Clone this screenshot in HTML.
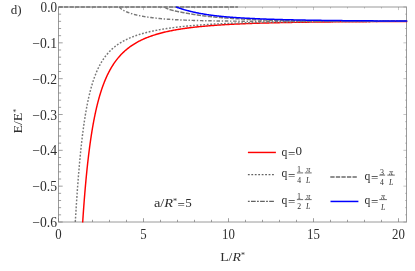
<!DOCTYPE html>
<html><head><meta charset="utf-8"><title>plot</title>
<style>
html,body{margin:0;padding:0;background:#ffffff;}
body{width:415px;height:271px;position:relative;overflow:hidden;font-family:"Liberation Serif",serif;}
</style></head><body>
<svg width="415" height="271" viewBox="0 0 415 271" style="position:absolute;left:0;top:0;will-change:transform">
<defs><clipPath id="c"><rect x="58.50" y="5.80" width="348.90" height="216.70"/></clipPath></defs>
<rect x="58.5" y="7.0" width="348.0" height="215.0" stroke="#9a9a9a" stroke-width="1" fill="none"/>
<g stroke="#777777" stroke-width="0.7" fill="none">
<path d="M58.50 222.0 v-3.8"/><path d="M58.50 7.0 v3.0999999999999996" stroke-opacity="0.6"/>
<path d="M75.50 222.0 v-2.2"/><path d="M75.50 7.0 v1.5000000000000002" stroke-opacity="0.6"/>
<path d="M92.50 222.0 v-2.2"/><path d="M92.50 7.0 v1.5000000000000002" stroke-opacity="0.6"/>
<path d="M109.50 222.0 v-2.2"/><path d="M109.50 7.0 v1.5000000000000002" stroke-opacity="0.6"/>
<path d="M126.50 222.0 v-2.2"/><path d="M126.50 7.0 v1.5000000000000002" stroke-opacity="0.6"/>
<path d="M143.50 222.0 v-3.8"/><path d="M143.50 7.0 v3.0999999999999996" stroke-opacity="0.6"/>
<path d="M160.50 222.0 v-2.2"/><path d="M160.50 7.0 v1.5000000000000002" stroke-opacity="0.6"/>
<path d="M177.50 222.0 v-2.2"/><path d="M177.50 7.0 v1.5000000000000002" stroke-opacity="0.6"/>
<path d="M194.50 222.0 v-2.2"/><path d="M194.50 7.0 v1.5000000000000002" stroke-opacity="0.6"/>
<path d="M211.50 222.0 v-2.2"/><path d="M211.50 7.0 v1.5000000000000002" stroke-opacity="0.6"/>
<path d="M228.50 222.0 v-3.8"/><path d="M228.50 7.0 v3.0999999999999996" stroke-opacity="0.6"/>
<path d="M245.50 222.0 v-2.2"/><path d="M245.50 7.0 v1.5000000000000002" stroke-opacity="0.6"/>
<path d="M262.50 222.0 v-2.2"/><path d="M262.50 7.0 v1.5000000000000002" stroke-opacity="0.6"/>
<path d="M279.50 222.0 v-2.2"/><path d="M279.50 7.0 v1.5000000000000002" stroke-opacity="0.6"/>
<path d="M296.50 222.0 v-2.2"/><path d="M296.50 7.0 v1.5000000000000002" stroke-opacity="0.6"/>
<path d="M313.50 222.0 v-3.8"/><path d="M313.50 7.0 v3.0999999999999996" stroke-opacity="0.6"/>
<path d="M330.50 222.0 v-2.2"/><path d="M330.50 7.0 v1.5000000000000002" stroke-opacity="0.6"/>
<path d="M347.50 222.0 v-2.2"/><path d="M347.50 7.0 v1.5000000000000002" stroke-opacity="0.6"/>
<path d="M364.50 222.0 v-2.2"/><path d="M364.50 7.0 v1.5000000000000002" stroke-opacity="0.6"/>
<path d="M381.50 222.0 v-2.2"/><path d="M381.50 7.0 v1.5000000000000002" stroke-opacity="0.6"/>
<path d="M398.50 222.0 v-3.8"/><path d="M398.50 7.0 v3.0999999999999996" stroke-opacity="0.6"/>
<path d="M58.5 7.00 h4.2"/><path d="M406.5 7.00 h-3.0999999999999996" stroke-opacity="0.6"/>
<path d="M58.5 14.17 h2.6"/><path d="M406.5 14.17 h-1.5000000000000002" stroke-opacity="0.6"/>
<path d="M58.5 21.33 h2.6"/><path d="M406.5 21.33 h-1.5000000000000002" stroke-opacity="0.6"/>
<path d="M58.5 28.50 h2.6"/><path d="M406.5 28.50 h-1.5000000000000002" stroke-opacity="0.6"/>
<path d="M58.5 35.67 h2.6"/><path d="M406.5 35.67 h-1.5000000000000002" stroke-opacity="0.6"/>
<path d="M58.5 42.83 h4.2"/><path d="M406.5 42.83 h-3.0999999999999996" stroke-opacity="0.6"/>
<path d="M58.5 50.00 h2.6"/><path d="M406.5 50.00 h-1.5000000000000002" stroke-opacity="0.6"/>
<path d="M58.5 57.17 h2.6"/><path d="M406.5 57.17 h-1.5000000000000002" stroke-opacity="0.6"/>
<path d="M58.5 64.33 h2.6"/><path d="M406.5 64.33 h-1.5000000000000002" stroke-opacity="0.6"/>
<path d="M58.5 71.50 h2.6"/><path d="M406.5 71.50 h-1.5000000000000002" stroke-opacity="0.6"/>
<path d="M58.5 78.67 h4.2"/><path d="M406.5 78.67 h-3.0999999999999996" stroke-opacity="0.6"/>
<path d="M58.5 85.83 h2.6"/><path d="M406.5 85.83 h-1.5000000000000002" stroke-opacity="0.6"/>
<path d="M58.5 93.00 h2.6"/><path d="M406.5 93.00 h-1.5000000000000002" stroke-opacity="0.6"/>
<path d="M58.5 100.17 h2.6"/><path d="M406.5 100.17 h-1.5000000000000002" stroke-opacity="0.6"/>
<path d="M58.5 107.33 h2.6"/><path d="M406.5 107.33 h-1.5000000000000002" stroke-opacity="0.6"/>
<path d="M58.5 114.50 h4.2"/><path d="M406.5 114.50 h-3.0999999999999996" stroke-opacity="0.6"/>
<path d="M58.5 121.67 h2.6"/><path d="M406.5 121.67 h-1.5000000000000002" stroke-opacity="0.6"/>
<path d="M58.5 128.83 h2.6"/><path d="M406.5 128.83 h-1.5000000000000002" stroke-opacity="0.6"/>
<path d="M58.5 136.00 h2.6"/><path d="M406.5 136.00 h-1.5000000000000002" stroke-opacity="0.6"/>
<path d="M58.5 143.17 h2.6"/><path d="M406.5 143.17 h-1.5000000000000002" stroke-opacity="0.6"/>
<path d="M58.5 150.33 h4.2"/><path d="M406.5 150.33 h-3.0999999999999996" stroke-opacity="0.6"/>
<path d="M58.5 157.50 h2.6"/><path d="M406.5 157.50 h-1.5000000000000002" stroke-opacity="0.6"/>
<path d="M58.5 164.67 h2.6"/><path d="M406.5 164.67 h-1.5000000000000002" stroke-opacity="0.6"/>
<path d="M58.5 171.83 h2.6"/><path d="M406.5 171.83 h-1.5000000000000002" stroke-opacity="0.6"/>
<path d="M58.5 179.00 h2.6"/><path d="M406.5 179.00 h-1.5000000000000002" stroke-opacity="0.6"/>
<path d="M58.5 186.17 h4.2"/><path d="M406.5 186.17 h-3.0999999999999996" stroke-opacity="0.6"/>
<path d="M58.5 193.33 h2.6"/><path d="M406.5 193.33 h-1.5000000000000002" stroke-opacity="0.6"/>
<path d="M58.5 200.50 h2.6"/><path d="M406.5 200.50 h-1.5000000000000002" stroke-opacity="0.6"/>
<path d="M58.5 207.67 h2.6"/><path d="M406.5 207.67 h-1.5000000000000002" stroke-opacity="0.6"/>
<path d="M58.5 214.83 h2.6"/><path d="M406.5 214.83 h-1.5000000000000002" stroke-opacity="0.6"/>
<path d="M58.5 222.00 h4.2"/><path d="M406.5 222.00 h-3.0999999999999996" stroke-opacity="0.6"/>
</g>
<g clip-path="url(#c)" fill="none" stroke-linejoin="round">
<path d="M82.30 228.28 L82.36 227.33 L82.42 226.38 L82.48 225.43 L82.54 224.49 L82.60 223.54 L82.66 222.59 L82.72 221.64 L82.79 220.70 L82.85 219.75 L82.91 218.80 L82.98 217.85 L83.04 216.91 L83.10 215.96 L83.17 215.01 L83.24 214.06 L83.30 213.12 L83.37 212.17 L83.43 211.22 L83.50 210.27 L83.57 209.33 L83.64 208.38 L83.71 207.43 L83.78 206.49 L83.85 205.54 L83.92 204.59 L83.99 203.64 L84.06 202.70 L84.13 201.75 L84.21 200.80 L84.28 199.86 L84.35 198.91 L84.43 197.96 L84.50 197.02 L84.58 196.07 L84.66 195.12 L84.73 194.18 L84.81 193.23 L84.89 192.28 L84.97 191.34 L85.05 190.39 L85.13 189.45 L85.21 188.50 L85.29 187.55 L85.38 186.61 L85.46 185.66 L85.54 184.72 L85.63 183.77 L85.71 182.82 L85.80 181.88 L85.89 180.93 L85.97 179.99 L86.06 179.04 L86.15 178.10 L86.24 177.15 L86.33 176.20 L86.42 175.26 L86.52 174.31 L86.61 173.37 L86.71 172.42 L86.80 171.48 L86.90 170.53 L86.99 169.59 L87.09 168.65 L87.19 167.70 L87.29 166.76 L87.39 165.81 L87.49 164.87 L87.60 163.92 L87.70 162.98 L87.81 162.04 L87.91 161.09 L88.02 160.15 L88.13 159.21 L88.24 158.26 L88.35 157.32 L88.46 156.38 L88.57 155.43 L88.69 154.49 L88.80 153.55 L88.92 152.60 L89.04 151.66 L89.16 150.72 L89.28 149.78 L89.40 148.84 L89.52 147.89 L89.65 146.95 L89.77 146.01 L89.90 145.07 L90.03 144.13 L90.16 143.19 L90.29 142.25 L90.42 141.31 L90.56 140.37 L90.69 139.43 L90.83 138.49 L90.97 137.55 L91.11 136.61 L91.26 135.67 L91.40 134.73 L91.55 133.80 L91.70 132.86 L91.85 131.92 L92.00 130.98 L92.15 130.04 L92.31 129.11 L92.47 128.17 L92.63 127.24 L92.79 126.30 L92.95 125.36 L93.12 124.43 L93.29 123.50 L93.46 122.56 L93.63 121.63 L93.81 120.69 L93.99 119.76 L94.17 118.83 L94.35 117.90 L94.54 116.97 L94.73 116.04 L94.92 115.10 L95.11 114.18 L95.31 113.25 L95.51 112.32 L95.71 111.39 L95.92 110.46 L96.13 109.54 L96.34 108.61 L96.55 107.69 L96.77 106.76 L96.99 105.84 L97.22 104.92 L97.45 103.99 L97.68 103.07 L97.92 102.15 L98.16 101.23 L98.40 100.32 L98.65 99.40 L98.90 98.48 L99.16 97.57 L99.42 96.66 L99.68 95.74 L99.95 94.83 L100.23 93.93 L100.51 93.02 L100.79 92.11 L101.08 91.21 L101.38 90.30 L101.67 89.40 L101.98 88.50 L102.29 87.60 L102.60 86.71 L102.92 85.81 L103.25 84.92 L103.58 84.03 L103.92 83.15 L104.27 82.26 L104.62 81.38 L104.98 80.50 L105.35 79.62 L105.72 78.75 L106.10 77.88 L106.48 77.01 L106.88 76.15 L107.28 75.29 L107.69 74.43 L108.11 73.58 L108.54 72.73 L108.97 71.89 L109.41 71.05 L109.86 70.21 L110.32 69.38 L110.79 68.55 L111.27 67.73 L111.76 66.92 L112.25 66.11 L112.76 65.30 L113.27 64.51 L113.80 63.71 L114.33 62.93 L114.88 62.15 L115.43 61.38 L116.00 60.62 L116.57 59.86 L117.16 59.11 L117.75 58.37 L118.36 57.64 L118.98 56.92 L119.60 56.20 L120.24 55.50 L120.88 54.80 L121.54 54.12 L122.21 53.44 L122.88 52.77 L123.57 52.11 L124.26 51.47 L124.97 50.83 L125.68 50.21 L126.41 49.59 L127.14 48.99 L127.88 48.39 L128.63 47.81 L129.39 47.24 L130.15 46.68 L130.93 46.13 L131.71 45.59 L132.50 45.06 L133.30 44.54 L134.10 44.04 L134.91 43.54 L135.73 43.06 L136.55 42.58 L137.38 42.12 L138.21 41.67 L139.05 41.22 L139.90 40.79 L140.75 40.37 L141.60 39.95 L142.46 39.55 L143.33 39.16 L144.20 38.77 L145.07 38.40 L145.95 38.03 L146.82 37.67 L147.71 37.32 L148.59 36.98 L149.48 36.65 L150.38 36.33 L151.27 36.01 L152.17 35.70 L153.07 35.40 L153.97 35.10 L154.88 34.82 L155.79 34.54 L156.70 34.26 L157.61 34.00 L158.52 33.73 L159.44 33.48 L160.35 33.23 L161.27 32.99 L162.19 32.75 L163.11 32.52 L164.03 32.30 L164.96 32.08 L165.88 31.86 L166.81 31.65 L167.74 31.45 L168.66 31.25 L169.59 31.05 L170.52 30.86 L171.45 30.67 L172.39 30.49 L173.32 30.31 L174.25 30.14 L175.19 29.97 L176.12 29.80 L177.06 29.64 L177.99 29.48 L178.93 29.33 L179.87 29.17 L180.81 29.03 L181.75 28.88 L182.68 28.74 L183.62 28.60 L184.56 28.46 L185.50 28.33 L186.44 28.20 L187.39 28.07 L188.33 27.95 L189.27 27.83 L190.21 27.71 L191.15 27.59 L192.10 27.48 L193.04 27.37 L193.98 27.26 L194.93 27.15 L195.87 27.04 L196.81 26.94 L197.76 26.84 L198.70 26.74 L199.65 26.65 L200.59 26.55 L201.54 26.46 L202.48 26.37 L203.43 26.28 L204.37 26.19 L205.32 26.11 L206.27 26.02 L207.21 25.94 L208.16 25.86 L209.11 25.78 L210.05 25.71 L211.00 25.63 L211.95 25.56 L212.89 25.48 L213.84 25.41 L214.79 25.34 L215.73 25.27 L216.68 25.21 L217.63 25.14 L218.58 25.07 L219.52 25.01 L220.47 24.95 L221.42 24.89 L222.37 24.83 L223.31 24.77 L224.26 24.71 L225.21 24.65 L226.16 24.60 L227.11 24.54 L228.05 24.49 L229.00 24.44 L229.95 24.39 L230.90 24.34 L231.85 24.29 L232.80 24.24 L233.74 24.19 L234.69 24.14 L235.64 24.10 L236.59 24.05 L237.54 24.01 L238.49 23.96 L239.44 23.92 L240.38 23.88 L241.33 23.84 L242.28 23.80 L243.23 23.76 L244.18 23.72 L245.13 23.68 L246.08 23.64 L247.03 23.60 L247.98 23.57 L248.92 23.53 L249.87 23.50 L250.82 23.46 L251.77 23.43 L252.72 23.39 L253.67 23.36 L254.62 23.33 L255.57 23.30 L256.52 23.27 L257.47 23.24 L258.42 23.21 L259.37 23.18 L260.31 23.15 L261.26 23.12 L262.21 23.09 L263.16 23.06 L264.11 23.03 L265.06 23.01 L266.01 22.98 L266.96 22.96 L267.91 22.93 L268.86 22.91 L269.81 22.88 L270.76 22.86 L271.71 22.83 L272.66 22.81 L273.60 22.79 L274.55 22.76 L275.50 22.74 L276.45 22.72 L277.40 22.70 L278.35 22.68 L279.30 22.66 L280.25 22.64 L281.20 22.62 L282.15 22.60 L283.10 22.58 L284.05 22.56 L285.00 22.54 L285.95 22.52 L286.90 22.50 L287.85 22.48 L288.80 22.47 L289.75 22.45 L290.70 22.43 L291.64 22.42 L292.59 22.40 L293.54 22.38 L294.49 22.37 L295.44 22.35 L296.39 22.34 L297.34 22.32 L298.29 22.31 L299.24 22.29 L300.19 22.28 L301.14 22.26 L302.09 22.25 L303.04 22.23 L303.99 22.22 L304.94 22.21 L305.89 22.19 L306.84 22.18 L307.79 22.17 L308.74 22.16 L309.69 22.14 L310.64 22.13 L311.59 22.12 L312.54 22.11 L313.48 22.10 L314.43 22.08 L315.38 22.07 L316.33 22.06 L317.28 22.05 L318.23 22.04 L319.18 22.03 L320.13 22.02 L321.08 22.01 L322.03 22.00 L322.98 21.99 L323.93 21.98 L324.88 21.97 L325.83 21.96 L326.78 21.95 L327.73 21.94 L328.68 21.93 L329.63 21.92 L330.58 21.91 L331.53 21.90 L332.48 21.90 L333.43 21.89 L334.38 21.88 L335.33 21.87 L336.28 21.86 L337.23 21.86 L338.17 21.85 L339.12 21.84 L340.07 21.83 L341.02 21.82 L341.97 21.82 L342.92 21.81 L343.87 21.80 L344.82 21.80 L345.77 21.79 L346.72 21.78 L347.67 21.78 L348.62 21.77 L349.57 21.76 L350.52 21.76 L351.47 21.75 L352.42 21.74 L353.37 21.74 L354.32 21.73 L355.27 21.73 L356.22 21.72 L357.17 21.71 L358.12 21.71 L359.07 21.70 L360.02 21.70 L360.97 21.69 L361.92 21.69 L362.87 21.68 L363.82 21.68 L364.77 21.67 L365.71 21.66 L366.66 21.66 L367.61 21.65 L368.56 21.65 L369.51 21.65 L370.46 21.64 L371.41 21.64 L372.36 21.63 L373.31 21.63 L374.26 21.62 L375.21 21.62 L376.16 21.62 L377.11 21.61 L378.06 21.61 L379.01 21.60 L379.96 21.60 L380.91 21.60 L381.86 21.59 L382.81 21.59 L383.76 21.58 L384.71 21.58 L385.66 21.58 L386.61 21.57 L387.56 21.57 L388.51 21.57 L389.46 21.56 L390.41 21.56 L391.36 21.56 L392.31 21.55 L393.26 21.55 L394.20 21.55 L395.15 21.54 L396.10 21.54 L397.05 21.53 L398.00 21.53 L398.95 21.53 L399.90 21.53 L400.85 21.52 L401.80 21.52 L402.75 21.52 L403.70 21.51 L404.65 21.51 L405.60 21.51 L406.55 21.50 L407.50 21.50" stroke="#ff0000" stroke-width="1.45"/>
<path d="M74.90 228.84 L74.96 227.86 L75.01 226.89 L75.07 225.91 L75.12 224.94 L75.18 223.96 L75.24 222.99 L75.29 222.01 L75.35 221.04 L75.41 220.07 L75.47 219.09 L75.53 218.12 L75.59 217.14 L75.65 216.17 L75.70 215.19 L75.76 214.22 L75.82 213.25 L75.89 212.27 L75.95 211.30 L76.01 210.32 L76.07 209.35 L76.13 208.37 L76.19 207.40 L76.26 206.43 L76.32 205.45 L76.38 204.48 L76.45 203.50 L76.51 202.53 L76.57 201.56 L76.64 200.58 L76.71 199.61 L76.77 198.63 L76.84 197.66 L76.90 196.69 L76.97 195.71 L77.04 194.74 L77.11 193.77 L77.18 192.79 L77.25 191.82 L77.32 190.84 L77.39 189.87 L77.46 188.90 L77.53 187.92 L77.60 186.95 L77.67 185.98 L77.74 185.00 L77.82 184.03 L77.89 183.06 L77.97 182.08 L78.04 181.11 L78.12 180.14 L78.19 179.16 L78.27 178.19 L78.35 177.22 L78.42 176.24 L78.50 175.27 L78.58 174.30 L78.66 173.33 L78.74 172.35 L78.82 171.38 L78.91 170.41 L78.99 169.44 L79.07 168.46 L79.16 167.49 L79.24 166.52 L79.33 165.55 L79.41 164.57 L79.50 163.60 L79.59 162.63 L79.68 161.66 L79.77 160.68 L79.86 159.71 L79.95 158.74 L80.04 157.77 L80.14 156.80 L80.23 155.83 L80.32 154.85 L80.42 153.88 L80.52 152.91 L80.62 151.94 L80.71 150.97 L80.81 150.00 L80.92 149.03 L81.02 148.06 L81.12 147.09 L81.23 146.12 L81.33 145.15 L81.44 144.18 L81.55 143.21 L81.66 142.24 L81.77 141.27 L81.88 140.30 L81.99 139.33 L82.10 138.36 L82.22 137.39 L82.34 136.42 L82.45 135.45 L82.57 134.48 L82.70 133.51 L82.82 132.54 L82.94 131.58 L83.07 130.61 L83.20 129.64 L83.32 128.67 L83.46 127.70 L83.59 126.74 L83.72 125.77 L83.86 124.80 L84.00 123.84 L84.14 122.87 L84.28 121.91 L84.42 120.94 L84.57 119.98 L84.71 119.01 L84.86 118.05 L85.02 117.08 L85.17 116.12 L85.33 115.15 L85.49 114.19 L85.65 113.23 L85.81 112.27 L85.98 111.30 L86.15 110.34 L86.32 109.38 L86.49 108.42 L86.67 107.46 L86.85 106.50 L87.03 105.54 L87.22 104.59 L87.41 103.63 L87.60 102.67 L87.80 101.72 L88.00 100.76 L88.20 99.80 L88.41 98.85 L88.62 97.90 L88.83 96.95 L89.05 95.99 L89.27 95.04 L89.50 94.09 L89.73 93.15 L89.97 92.20 L90.21 91.25 L90.45 90.31 L90.70 89.36 L90.95 88.42 L91.21 87.48 L91.48 86.54 L91.75 85.60 L92.03 84.67 L92.31 83.73 L92.60 82.80 L92.89 81.87 L93.20 80.94 L93.50 80.02 L93.82 79.09 L94.14 78.17 L94.47 77.25 L94.81 76.34 L95.16 75.42 L95.51 74.51 L95.88 73.61 L96.24 72.70 L96.62 71.80 L97.01 70.91 L97.40 70.02 L97.81 69.13 L98.23 68.25 L98.66 67.37 L99.09 66.50 L99.54 65.63 L100.00 64.77 L100.47 63.91 L100.96 63.06 L101.45 62.22 L101.96 61.39 L102.48 60.56 L103.01 59.74 L103.55 58.93 L104.10 58.13 L104.67 57.33 L105.25 56.55 L105.85 55.78 L106.46 55.01 L107.08 54.26 L107.71 53.52 L108.36 52.79 L109.02 52.07 L109.69 51.36 L110.38 50.66 L111.08 49.98 L111.79 49.31 L112.51 48.66 L113.25 48.01 L113.99 47.39 L114.75 46.77 L115.52 46.17 L116.30 45.58 L117.09 45.00 L117.88 44.44 L118.69 43.89 L119.51 43.36 L120.33 42.84 L121.17 42.33 L122.01 41.83 L122.86 41.35 L123.71 40.88 L124.58 40.43 L125.44 39.98 L126.32 39.55 L127.20 39.13 L128.09 38.71 L128.98 38.32 L129.87 37.93 L130.77 37.55 L131.68 37.18 L132.58 36.82 L133.50 36.47 L134.41 36.14 L135.33 35.81 L136.25 35.48 L137.18 35.17 L138.10 34.87 L139.03 34.57 L139.97 34.28 L140.90 34.00 L141.84 33.73 L142.78 33.46 L143.72 33.20 L144.66 32.95 L145.60 32.70 L146.55 32.46 L147.50 32.22 L148.45 31.99 L149.40 31.77 L150.35 31.55 L151.30 31.34 L152.25 31.13 L153.21 30.93 L154.17 30.73 L155.12 30.54 L156.08 30.35 L157.04 30.17 L158.00 29.99 L158.96 29.81 L159.92 29.64 L160.88 29.47 L161.84 29.31 L162.81 29.15 L163.77 28.99 L164.73 28.84 L165.70 28.69 L166.66 28.54 L167.63 28.40 L168.59 28.26 L169.56 28.12 L170.53 27.99 L171.49 27.86 L172.46 27.73 L173.43 27.60 L174.40 27.48 L175.37 27.36 L176.34 27.24 L177.31 27.12 L178.28 27.01 L179.25 26.90 L180.22 26.79 L181.19 26.69 L182.16 26.58 L183.13 26.48 L184.10 26.38 L185.07 26.28 L186.04 26.19 L187.01 26.09 L187.98 26.00 L188.96 25.91 L189.93 25.82 L190.90 25.73 L191.87 25.65 L192.84 25.57 L193.82 25.48 L194.79 25.40 L195.76 25.33 L196.74 25.25 L197.71 25.17 L198.68 25.10 L199.66 25.03 L200.63 24.96 L201.60 24.89 L202.58 24.82 L203.55 24.75 L204.53 24.69 L205.50 24.62 L206.47 24.56 L207.45 24.50 L208.42 24.43 L209.40 24.38 L210.37 24.32 L211.34 24.26 L212.32 24.20 L213.29 24.15 L214.27 24.09 L215.24 24.04 L216.22 23.99 L217.19 23.94 L218.17 23.89 L219.14 23.84 L220.12 23.79 L221.09 23.74 L222.07 23.70 L223.04 23.65 L224.02 23.61 L224.99 23.56 L225.97 23.52 L226.94 23.48 L227.92 23.43 L228.89 23.39 L229.87 23.35 L230.84 23.32 L231.82 23.28 L232.79 23.24 L233.77 23.20 L234.75 23.17 L235.72 23.13 L236.70 23.10 L237.67 23.06 L238.65 23.03 L239.62 22.99 L240.60 22.96 L241.57 22.93 L242.55 22.90 L243.53 22.87 L244.50 22.84 L245.48 22.81 L246.45 22.78 L247.43 22.75 L248.40 22.72 L249.38 22.70 L250.36 22.67 L251.33 22.64 L252.31 22.62 L253.28 22.59 L254.26 22.57 L255.23 22.54 L256.21 22.52 L257.19 22.50 L258.16 22.47 L259.14 22.45 L260.11 22.43 L261.09 22.41 L262.07 22.39 L263.04 22.36 L264.02 22.34 L264.99 22.32 L265.97 22.30 L266.94 22.28 L267.92 22.27 L268.90 22.25 L269.87 22.23 L270.85 22.21 L271.82 22.19 L272.80 22.18 L273.78 22.16 L274.75 22.14 L275.73 22.13 L276.70 22.11 L277.68 22.09 L278.66 22.08 L279.63 22.06 L280.61 22.05 L281.58 22.03 L282.56 22.02 L283.54 22.01 L284.51 21.99 L285.49 21.98 L286.46 21.97 L287.44 21.95 L288.42 21.94 L289.39 21.93 L290.37 21.92 L291.34 21.90 L292.32 21.89 L293.30 21.88 L294.27 21.87 L295.25 21.86 L296.22 21.85 L297.20 21.84 L298.18 21.83 L299.15 21.82 L300.13 21.81 L301.10 21.80 L302.08 21.79 L303.06 21.78 L304.03 21.77 L305.01 21.76 L305.99 21.75 L306.96 21.74 L307.94 21.73 L308.91 21.72 L309.89 21.71 L310.87 21.71 L311.84 21.70 L312.82 21.69 L313.79 21.68 L314.77 21.67 L315.75 21.66 L316.72 21.65 L317.70 21.64 L318.67 21.63 L319.65 21.62 L320.63 21.61 L321.60 21.60 L322.58 21.60 L323.55 21.59 L324.53 21.58 L325.51 21.58 L326.48 21.57 L327.46 21.57 L328.44 21.56 L329.41 21.56 L330.39 21.55 L331.36 21.55 L332.34 21.55 L333.32 21.54 L334.29 21.54 L335.27 21.53 L336.24 21.53 L337.22 21.53 L338.20 21.52 L339.17 21.52 L340.15 21.52 L341.12 21.51 L342.10 21.51 L343.08 21.51 L344.05 21.50 L345.03 21.50 L346.01 21.50 L346.98 21.49 L347.96 21.49 L348.93 21.49 L349.91 21.48 L350.89 21.48 L351.86 21.47 L352.84 21.47 L353.81 21.47 L354.79 21.46 L355.77 21.46 L356.74 21.46 L357.72 21.45 L358.69 21.45 L359.67 21.45 L360.65 21.44 L361.62 21.44 L362.60 21.44 L363.57 21.43 L364.55 21.43 L365.53 21.43 L366.50 21.42 L367.48 21.42 L368.46 21.42 L369.43 21.41 L370.41 21.41 L371.38 21.41 L372.36 21.41 L373.34 21.40 L374.31 21.40 L375.29 21.40 L376.26 21.40 L377.24 21.40 L378.22 21.39 L379.19 21.39 L380.17 21.39 L381.14 21.39 L382.12 21.39 L383.10 21.38 L384.07 21.38 L385.05 21.38 L386.03 21.38 L387.00 21.38 L387.98 21.37 L388.95 21.37 L389.93 21.37 L390.91 21.37 L391.88 21.37 L392.86 21.37 L393.83 21.36 L394.81 21.36 L395.79 21.36 L396.76 21.36 L397.74 21.36 L398.71 21.36 L399.69 21.36 L400.67 21.36 L401.64 21.35 L402.62 21.35 L403.60 21.35 L404.57 21.35 L405.55 21.35 L406.52 21.35 L407.50 21.35" stroke="#787878" stroke-width="1.45" stroke-dasharray="1.8 1.65"/>
<path d="M119.30 7.00 L119.70 7.43 L120.11 7.84 L120.54 8.23 L120.98 8.61 L121.44 8.97 L121.92 9.31 L122.40 9.63 L122.89 9.94 L123.39 10.24 L123.90 10.53 L124.41 10.81 L124.93 11.08 L125.45 11.33 L125.98 11.57 L126.51 11.81 L127.05 12.03 L127.59 12.25 L128.14 12.46 L128.69 12.66 L129.23 12.86 L129.78 13.05 L130.33 13.24 L130.89 13.42 L131.44 13.60 L132.00 13.78 L132.55 13.95 L133.11 14.11 L133.67 14.28 L134.23 14.43 L134.79 14.58 L135.36 14.73 L135.92 14.87 L136.49 15.01 L137.05 15.15 L137.62 15.28 L138.19 15.40 L138.76 15.53 L139.33 15.65 L139.90 15.76 L140.47 15.88 L141.04 15.99 L141.62 16.10 L142.19 16.20 L142.76 16.30 L143.34 16.40 L143.91 16.50 L144.48 16.60 L145.06 16.69 L145.63 16.79 L146.21 16.88 L146.78 16.97 L147.36 17.06 L147.94 17.14 L148.51 17.22 L149.09 17.30 L149.67 17.38 L150.24 17.45 L150.82 17.52 L151.40 17.59 L151.98 17.66 L152.56 17.73 L153.13 17.79 L153.71 17.86 L154.29 17.93 L154.87 17.99 L155.45 18.06 L156.03 18.13 L156.61 18.19 L157.19 18.26 L157.76 18.32 L158.34 18.38 L158.92 18.44 L159.50 18.50 L160.08 18.56 L160.66 18.61 L161.24 18.67 L161.82 18.72 L162.40 18.78 L162.98 18.83 L163.56 18.88 L164.14 18.93 L164.72 18.98 L165.30 19.02 L165.88 19.07 L166.46 19.11 L167.04 19.15 L167.62 19.19 L168.20 19.23 L168.79 19.27 L169.37 19.31 L169.95 19.35 L170.53 19.38 L171.11 19.42 L171.69 19.46 L172.27 19.49 L172.85 19.53 L173.44 19.56 L174.02 19.60 L174.60 19.63 L175.18 19.66 L175.76 19.69 L176.34 19.72 L176.92 19.75 L177.51 19.78 L178.09 19.81 L178.67 19.84 L179.25 19.87 L179.83 19.90 L180.41 19.93 L181.00 19.96 L181.58 19.98 L182.16 20.01 L182.74 20.03 L183.32 20.06 L183.90 20.08 L184.49 20.10 L185.07 20.12 L185.65 20.15 L186.23 20.17 L186.81 20.19 L187.40 20.21 L187.98 20.23 L188.56 20.25 L189.14 20.27 L189.72 20.29 L190.31 20.31 L190.89 20.33 L191.47 20.35 L192.05 20.37 L192.63 20.39 L193.22 20.41 L193.80 20.42 L194.38 20.44 L194.96 20.46 L195.54 20.48 L196.13 20.49 L196.71 20.51 L197.29 20.53 L197.87 20.54 L198.45 20.56 L199.04 20.58 L199.62 20.59 L200.20 20.60 L200.78 20.62 L201.36 20.63 L201.95 20.65 L202.53 20.66 L203.11 20.67 L203.69 20.69 L204.28 20.70 L204.86 20.71 L205.44 20.72 L206.02 20.74 L206.60 20.75 L207.19 20.76 L207.77 20.77 L208.35 20.78 L208.93 20.79 L209.52 20.80 L210.10 20.82 L210.68 20.83 L211.26 20.84 L211.84 20.85 L212.43 20.86 L213.01 20.87 L213.59 20.88 L214.17 20.89 L214.76 20.90 L215.34 20.91 L215.92 20.92 L216.50 20.93 L217.08 20.94 L217.67 20.95 L218.25 20.96 L218.83 20.97 L219.41 20.98 L220.00 20.99 L220.58 20.99 L221.16 21.00 L221.74 21.01 L222.32 21.02 L222.91 21.03 L223.49 21.03 L224.07 21.04 L224.65 21.05 L225.24 21.05 L225.82 21.06 L226.40 21.06 L226.98 21.07 L227.57 21.08 L228.15 21.08 L228.73 21.09 L229.31 21.09 L229.89 21.10 L230.48 21.10 L231.06 21.11 L231.64 21.11 L232.22 21.12 L232.81 21.12 L233.39 21.13 L233.97 21.13 L234.55 21.14 L235.13 21.14 L235.72 21.15 L236.30 21.15 L236.88 21.16 L237.46 21.16 L238.05 21.16 L238.63 21.17 L239.21 21.17 L239.79 21.17 L240.38 21.18 L240.96 21.18 L241.54 21.18 L242.12 21.19 L242.70 21.19 L243.29 21.19 L243.87 21.20 L244.45 21.20 L245.03 21.20 L245.62 21.20 L246.20 21.20 L246.78 21.21 L247.36 21.21 L247.95 21.21 L248.53 21.21 L249.11 21.21 L249.69 21.22 L250.27 21.22 L250.86 21.22 L251.44 21.22 L252.02 21.22 L252.60 21.23 L253.19 21.23 L253.77 21.23 L254.35 21.23 L254.93 21.23 L255.52 21.24 L256.10 21.24 L256.68 21.24 L257.26 21.24 L257.85 21.24 L258.43 21.24 L259.01 21.25 L259.59 21.25 L260.17 21.25 L260.76 21.25 L261.34 21.25 L261.92 21.25 L262.50 21.25 L263.09 21.26 L263.67 21.26 L264.25 21.26 L264.83 21.26 L265.42 21.26 L266.00 21.26 L266.58 21.26 L267.16 21.26 L267.74 21.27 L268.33 21.27 L268.91 21.27 L269.49 21.27 L270.07 21.27 L270.66 21.27 L271.24 21.27 L271.82 21.27 L272.40 21.27 L272.99 21.27 L273.57 21.27 L274.15 21.28 L274.73 21.28 L275.31 21.28 L275.90 21.28 L276.48 21.28 L277.06 21.28 L277.64 21.28 L278.23 21.28 L278.81 21.28 L279.39 21.28 L279.97 21.28 L280.56 21.28 L281.14 21.28 L281.72 21.28 L282.30 21.28 L282.88 21.28 L283.47 21.28 L284.05 21.28 L284.63 21.28 L285.21 21.28 L285.80 21.28 L286.38 21.28 L286.96 21.28 L287.54 21.28 L288.13 21.28 L288.71 21.28 L289.29 21.28 L289.87 21.28 L290.45 21.28 L291.04 21.28 L291.62 21.28 L292.20 21.28 L292.78 21.28 L293.37 21.28 L293.95 21.28 L294.53 21.28 L295.11 21.28 L295.70 21.29 L296.28 21.29 L296.86 21.29 L297.44 21.29 L298.02 21.29 L298.61 21.29 L299.19 21.29 L299.77 21.29 L300.35 21.29 L300.94 21.29 L301.52 21.29 L302.10 21.29 L302.68 21.29 L303.27 21.29 L303.85 21.29 L304.43 21.29 L305.01 21.29 L305.59 21.29 L306.18 21.29 L306.76 21.29 L307.34 21.29 L307.92 21.29 L308.51 21.29 L309.09 21.29 L309.67 21.29 L310.25 21.29 L310.84 21.29 L311.42 21.29 L312.00 21.29 L312.58 21.29 L313.16 21.29 L313.75 21.29 L314.33 21.29 L314.91 21.29 L315.49 21.29 L316.08 21.29 L316.66 21.29 L317.24 21.29 L317.82 21.29 L318.41 21.29 L318.99 21.29 L319.57 21.29 L320.15 21.29 L320.74 21.29 L321.32 21.29 L321.90 21.29 L322.48 21.29 L323.06 21.29 L323.65 21.29 L324.23 21.29 L324.81 21.29 L325.39 21.29 L325.98 21.29 L326.56 21.29 L327.14 21.29 L327.72 21.29 L328.31 21.29 L328.89 21.29 L329.47 21.29 L330.05 21.29 L330.63 21.29 L331.22 21.29 L331.80 21.29 L332.38 21.29 L332.96 21.29 L333.55 21.29 L334.13 21.29 L334.71 21.29 L335.29 21.29 L335.88 21.29 L336.46 21.29 L337.04 21.29 L337.62 21.29 L338.20 21.29 L338.79 21.29 L339.37 21.29 L339.95 21.30 L340.53 21.30 L341.12 21.30 L341.70 21.30 L342.28 21.30 L342.86 21.30 L343.45 21.30 L344.03 21.30 L344.61 21.30 L345.19 21.30 L345.77 21.30 L346.36 21.30 L346.94 21.30 L347.52 21.30 L348.10 21.30 L348.69 21.30 L349.27 21.30 L349.85 21.30 L350.43 21.30 L351.02 21.30 L351.60 21.30 L352.18 21.30 L352.76 21.30 L353.34 21.30 L353.93 21.30 L354.51 21.30 L355.09 21.30 L355.67 21.30 L356.26 21.30 L356.84 21.30 L357.42 21.30 L358.00 21.30 L358.59 21.30 L359.17 21.30 L359.75 21.30 L360.33 21.30 L360.91 21.30 L361.50 21.30 L362.08 21.30 L362.66 21.30 L363.24 21.30 L363.83 21.30 L364.41 21.30 L364.99 21.30 L365.57 21.30 L366.16 21.30 L366.74 21.30 L367.32 21.30 L367.90 21.30 L368.48 21.30 L369.07 21.30 L369.65 21.30 L370.23 21.30 L370.81 21.30 L371.40 21.30 L371.98 21.30 L372.56 21.30 L373.14 21.30 L373.73 21.30 L374.31 21.30 L374.89 21.30 L375.47 21.30 L376.05 21.30 L376.64 21.30 L377.22 21.30 L377.80 21.30 L378.38 21.30 L378.97 21.30 L379.55 21.30 L380.13 21.30 L380.71 21.30 L381.30 21.30 L381.88 21.30 L382.46 21.30 L383.04 21.30 L383.63 21.30 L384.21 21.30 L384.79 21.30 L385.37 21.30 L385.95 21.30 L386.54 21.30 L387.12 21.30 L387.70 21.30 L388.28 21.30 L388.87 21.30 L389.45 21.30 L390.03 21.30 L390.61 21.30 L391.20 21.30 L391.78 21.30 L392.36 21.30 L392.94 21.30 L393.52 21.30 L394.11 21.30 L394.69 21.30 L395.27 21.30 L395.85 21.30 L396.44 21.30 L397.02 21.30 L397.60 21.30 L398.18 21.30 L398.77 21.30 L399.35 21.30 L399.93 21.30 L400.51 21.30 L401.09 21.30 L401.68 21.30 L402.26 21.30 L402.84 21.30 L403.42 21.30 L404.01 21.30 L404.59 21.30 L405.17 21.30 L405.75 21.30 L406.34 21.30 L406.92 21.30 L407.50 21.30" stroke="#787878" stroke-width="1.45" stroke-dasharray="3.5 1.7 1.4 1.7"/>
<path d="M58.5 7.0 L237.9 7.0" stroke="#747474" stroke-width="1.65" stroke-dasharray="4.3 1.225"/>
<path d="M164.60 7.00 L164.98 7.31 L165.38 7.60 L165.79 7.87 L166.21 8.12 L166.64 8.34 L167.08 8.55 L167.53 8.75 L167.99 8.93 L168.44 9.11 L168.90 9.28 L169.37 9.44 L169.83 9.59 L170.30 9.74 L170.77 9.88 L171.24 10.01 L171.71 10.14 L172.19 10.26 L172.66 10.38 L173.14 10.50 L173.61 10.61 L174.09 10.72 L174.57 10.84 L175.04 10.95 L175.52 11.06 L176.00 11.17 L176.48 11.27 L176.95 11.38 L177.43 11.48 L177.91 11.58 L178.39 11.68 L178.87 11.78 L179.35 11.87 L179.83 11.97 L180.31 12.06 L180.79 12.15 L181.28 12.24 L181.76 12.33 L182.24 12.42 L182.72 12.50 L183.20 12.59 L183.69 12.67 L184.17 12.75 L184.65 12.84 L185.13 12.92 L185.61 13.01 L186.10 13.10 L186.58 13.18 L187.06 13.27 L187.54 13.36 L188.02 13.44 L188.51 13.53 L188.99 13.61 L189.47 13.70 L189.95 13.78 L190.44 13.86 L190.92 13.94 L191.40 14.03 L191.88 14.11 L192.37 14.19 L192.85 14.27 L193.33 14.35 L193.82 14.43 L194.30 14.50 L194.78 14.58 L195.27 14.65 L195.75 14.73 L196.24 14.80 L196.72 14.87 L197.20 14.95 L197.69 15.02 L198.17 15.09 L198.66 15.16 L199.14 15.23 L199.63 15.30 L200.11 15.37 L200.60 15.44 L201.08 15.51 L201.57 15.58 L202.05 15.64 L202.54 15.71 L203.02 15.78 L203.51 15.85 L203.99 15.91 L204.48 15.97 L204.96 16.03 L205.45 16.09 L205.93 16.15 L206.42 16.21 L206.91 16.27 L207.39 16.32 L207.88 16.38 L208.37 16.43 L208.85 16.48 L209.34 16.54 L209.83 16.59 L210.31 16.64 L210.80 16.69 L211.29 16.74 L211.78 16.79 L212.26 16.84 L212.75 16.89 L213.24 16.94 L213.72 16.98 L214.21 17.03 L214.70 17.08 L215.19 17.12 L215.67 17.17 L216.16 17.21 L216.65 17.26 L217.14 17.30 L217.62 17.34 L218.11 17.39 L218.60 17.43 L219.09 17.47 L219.58 17.51 L220.06 17.56 L220.55 17.60 L221.04 17.64 L221.53 17.68 L222.02 17.72 L222.50 17.76 L222.99 17.79 L223.48 17.83 L223.97 17.87 L224.46 17.91 L224.94 17.95 L225.43 17.98 L225.92 18.02 L226.41 18.06 L226.90 18.09 L227.39 18.13 L227.87 18.16 L228.36 18.20 L228.85 18.23 L229.34 18.27 L229.83 18.30 L230.32 18.34 L230.80 18.37 L231.29 18.40 L231.78 18.44 L232.27 18.47 L232.76 18.50 L233.25 18.53 L233.74 18.56 L234.22 18.60 L234.71 18.63 L235.20 18.66 L235.69 18.69 L236.18 18.72 L236.67 18.75 L237.16 18.78 L237.64 18.81 L238.13 18.84 L238.62 18.87 L239.11 18.90 L239.60 18.93 L240.09 18.96 L240.58 18.98 L241.07 19.01 L241.55 19.04 L242.04 19.07 L242.53 19.10 L243.02 19.13 L243.51 19.15 L244.00 19.18 L244.49 19.21 L244.98 19.24 L245.47 19.26 L245.95 19.29 L246.44 19.32 L246.93 19.34 L247.42 19.37 L247.91 19.40 L248.40 19.42 L248.89 19.45 L249.38 19.47 L249.87 19.49 L250.35 19.52 L250.84 19.54 L251.33 19.56 L251.82 19.59 L252.31 19.61 L252.80 19.63 L253.29 19.65 L253.78 19.67 L254.27 19.69 L254.76 19.72 L255.25 19.74 L255.74 19.76 L256.22 19.78 L256.71 19.80 L257.20 19.82 L257.69 19.84 L258.18 19.86 L258.67 19.88 L259.16 19.89 L259.65 19.91 L260.14 19.93 L260.63 19.95 L261.12 19.97 L261.61 19.99 L262.10 20.00 L262.58 20.02 L263.07 20.04 L263.56 20.05 L264.05 20.07 L264.54 20.09 L265.03 20.11 L265.52 20.12 L266.01 20.14 L266.50 20.15 L266.99 20.17 L267.48 20.19 L267.97 20.20 L268.46 20.22 L268.95 20.23 L269.44 20.25 L269.93 20.26 L270.41 20.28 L270.90 20.29 L271.39 20.30 L271.88 20.32 L272.37 20.33 L272.86 20.35 L273.35 20.36 L273.84 20.37 L274.33 20.38 L274.82 20.40 L275.31 20.41 L275.80 20.42 L276.29 20.43 L276.78 20.44 L277.27 20.45 L277.76 20.46 L278.25 20.48 L278.74 20.49 L279.22 20.50 L279.71 20.51 L280.20 20.52 L280.69 20.53 L281.18 20.54 L281.67 20.55 L282.16 20.56 L282.65 20.57 L283.14 20.58 L283.63 20.59 L284.12 20.60 L284.61 20.61 L285.10 20.62 L285.59 20.63 L286.08 20.63 L286.57 20.64 L287.06 20.65 L287.55 20.66 L288.04 20.67 L288.53 20.68 L289.02 20.68 L289.51 20.69 L289.99 20.70 L290.48 20.71 L290.97 20.72 L291.46 20.72 L291.95 20.73 L292.44 20.74 L292.93 20.74 L293.42 20.75 L293.91 20.76 L294.40 20.77 L294.89 20.77 L295.38 20.78 L295.87 20.79 L296.36 20.79 L296.85 20.80 L297.34 20.81 L297.83 20.81 L298.32 20.82 L298.81 20.83 L299.30 20.83 L299.79 20.84 L300.28 20.85 L300.77 20.85 L301.25 20.86 L301.74 20.86 L302.23 20.87 L302.72 20.87 L303.21 20.88 L303.70 20.89 L304.19 20.89 L304.68 20.90 L305.17 20.90 L305.66 20.91 L306.15 20.91 L306.64 20.92 L307.13 20.92 L307.62 20.93 L308.11 20.93 L308.60 20.94 L309.09 20.94 L309.58 20.95 L310.07 20.95 L310.56 20.95 L311.05 20.96 L311.54 20.96 L312.03 20.97 L312.52 20.97 L313.00 20.98 L313.49 20.98 L313.98 20.98 L314.47 20.99 L314.96 20.99 L315.45 21.00 L315.94 21.00 L316.43 21.01 L316.92 21.01 L317.41 21.01 L317.90 21.02 L318.39 21.02 L318.88 21.02 L319.37 21.03 L319.86 21.03 L320.35 21.04 L320.84 21.04 L321.33 21.04 L321.82 21.05 L322.31 21.05 L322.80 21.05 L323.29 21.06 L323.78 21.06 L324.27 21.06 L324.76 21.07 L325.24 21.07 L325.73 21.07 L326.22 21.08 L326.71 21.08 L327.20 21.08 L327.69 21.09 L328.18 21.09 L328.67 21.09 L329.16 21.10 L329.65 21.10 L330.14 21.10 L330.63 21.11 L331.12 21.11 L331.61 21.11 L332.10 21.11 L332.59 21.12 L333.08 21.12 L333.57 21.12 L334.06 21.12 L334.55 21.13 L335.04 21.13 L335.53 21.13 L336.02 21.13 L336.51 21.14 L337.00 21.14 L337.49 21.14 L337.97 21.14 L338.46 21.14 L338.95 21.15 L339.44 21.15 L339.93 21.15 L340.42 21.15 L340.91 21.15 L341.40 21.15 L341.89 21.16 L342.38 21.16 L342.87 21.16 L343.36 21.16 L343.85 21.16 L344.34 21.17 L344.83 21.17 L345.32 21.17 L345.81 21.17 L346.30 21.17 L346.79 21.17 L347.28 21.18 L347.77 21.18 L348.26 21.18 L348.75 21.18 L349.24 21.18 L349.73 21.18 L350.21 21.19 L350.70 21.19 L351.19 21.19 L351.68 21.19 L352.17 21.19 L352.66 21.19 L353.15 21.20 L353.64 21.20 L354.13 21.20 L354.62 21.20 L355.11 21.20 L355.60 21.20 L356.09 21.20 L356.58 21.21 L357.07 21.21 L357.56 21.21 L358.05 21.21 L358.54 21.21 L359.03 21.21 L359.52 21.22 L360.01 21.22 L360.50 21.22 L360.99 21.22 L361.48 21.22 L361.97 21.22 L362.46 21.22 L362.94 21.23 L363.43 21.23 L363.92 21.23 L364.41 21.23 L364.90 21.23 L365.39 21.23 L365.88 21.23 L366.37 21.24 L366.86 21.24 L367.35 21.24 L367.84 21.24 L368.33 21.24 L368.82 21.24 L369.31 21.24 L369.80 21.25 L370.29 21.25 L370.78 21.25 L371.27 21.25 L371.76 21.25 L372.25 21.25 L372.74 21.25 L373.23 21.25 L373.72 21.25 L374.21 21.26 L374.70 21.26 L375.19 21.26 L375.67 21.26 L376.16 21.26 L376.65 21.26 L377.14 21.26 L377.63 21.26 L378.12 21.27 L378.61 21.27 L379.10 21.27 L379.59 21.27 L380.08 21.27 L380.57 21.27 L381.06 21.27 L381.55 21.27 L382.04 21.27 L382.53 21.27 L383.02 21.28 L383.51 21.28 L384.00 21.28 L384.49 21.28 L384.98 21.28 L385.47 21.28 L385.96 21.28 L386.45 21.28 L386.94 21.28 L387.43 21.28 L387.92 21.28 L388.40 21.28 L388.89 21.29 L389.38 21.29 L389.87 21.29 L390.36 21.29 L390.85 21.29 L391.34 21.29 L391.83 21.29 L392.32 21.29 L392.81 21.29 L393.30 21.29 L393.79 21.29 L394.28 21.29 L394.77 21.29 L395.26 21.29 L395.75 21.29 L396.24 21.29 L396.73 21.29 L397.22 21.30 L397.71 21.30 L398.20 21.30 L398.69 21.30 L399.18 21.30 L399.67 21.30 L400.16 21.30 L400.65 21.30 L401.13 21.30 L401.62 21.30 L402.11 21.30 L402.60 21.30 L403.09 21.30 L403.58 21.30 L404.07 21.30 L404.56 21.30 L405.05 21.30 L405.54 21.30 L406.03 21.30 L406.52 21.30 L407.01 21.30 L407.50 21.30" stroke="#787878" stroke-width="1.45" stroke-dasharray="4.3 1.25"/>
<path d="M176.00 7.00 L176.44 7.15 L176.88 7.29 L177.33 7.44 L177.77 7.59 L178.21 7.74 L178.65 7.88 L179.10 8.03 L179.54 8.18 L179.98 8.33 L180.42 8.48 L180.86 8.63 L181.31 8.78 L181.75 8.92 L182.19 9.06 L182.64 9.20 L183.09 9.34 L183.53 9.47 L183.98 9.60 L184.43 9.74 L184.87 9.86 L185.32 9.99 L185.77 10.12 L186.22 10.24 L186.67 10.36 L187.12 10.48 L187.57 10.60 L188.02 10.72 L188.48 10.84 L188.93 10.96 L189.38 11.07 L189.83 11.18 L190.28 11.29 L190.74 11.41 L191.19 11.52 L191.64 11.62 L192.10 11.73 L192.55 11.84 L193.01 11.94 L193.46 12.05 L193.92 12.15 L194.37 12.25 L194.83 12.35 L195.28 12.45 L195.74 12.55 L196.19 12.64 L196.65 12.74 L197.11 12.83 L197.56 12.92 L198.02 13.02 L198.48 13.11 L198.94 13.20 L199.39 13.29 L199.85 13.37 L200.31 13.46 L200.77 13.54 L201.23 13.62 L201.69 13.71 L202.15 13.79 L202.61 13.86 L203.07 13.94 L203.53 14.02 L203.99 14.10 L204.45 14.17 L204.91 14.25 L205.37 14.33 L205.83 14.40 L206.29 14.48 L206.75 14.55 L207.21 14.63 L207.67 14.70 L208.13 14.77 L208.59 14.84 L209.05 14.91 L209.51 14.97 L209.97 15.04 L210.44 15.10 L210.90 15.16 L211.36 15.23 L211.82 15.29 L212.29 15.35 L212.75 15.41 L213.21 15.46 L213.67 15.52 L214.14 15.58 L214.60 15.64 L215.06 15.69 L215.53 15.75 L215.99 15.80 L216.45 15.86 L216.91 15.91 L217.38 15.96 L217.84 16.01 L218.30 16.07 L218.77 16.12 L219.23 16.17 L219.70 16.22 L220.16 16.27 L220.62 16.32 L221.09 16.37 L221.55 16.41 L222.01 16.46 L222.48 16.51 L222.94 16.56 L223.41 16.60 L223.87 16.65 L224.33 16.69 L224.80 16.73 L225.26 16.77 L225.73 16.81 L226.19 16.85 L226.66 16.89 L227.12 16.93 L227.59 16.97 L228.05 17.00 L228.52 17.04 L228.98 17.08 L229.45 17.11 L229.91 17.15 L230.38 17.18 L230.84 17.21 L231.31 17.25 L231.77 17.28 L232.24 17.32 L232.70 17.35 L233.17 17.39 L233.63 17.42 L234.10 17.45 L234.56 17.49 L235.03 17.52 L235.49 17.55 L235.96 17.58 L236.42 17.62 L236.89 17.65 L237.35 17.68 L237.82 17.71 L238.28 17.74 L238.75 17.77 L239.21 17.80 L239.68 17.83 L240.15 17.86 L240.61 17.89 L241.08 17.92 L241.54 17.94 L242.01 17.97 L242.47 18.00 L242.94 18.02 L243.40 18.05 L243.87 18.08 L244.34 18.10 L244.80 18.13 L245.27 18.15 L245.73 18.18 L246.20 18.20 L246.66 18.23 L247.13 18.25 L247.59 18.28 L248.06 18.30 L248.53 18.33 L248.99 18.35 L249.46 18.37 L249.92 18.40 L250.39 18.42 L250.85 18.44 L251.32 18.47 L251.79 18.49 L252.25 18.51 L252.72 18.53 L253.18 18.56 L253.65 18.58 L254.11 18.60 L254.58 18.62 L255.05 18.65 L255.51 18.67 L255.98 18.69 L256.44 18.71 L256.91 18.73 L257.38 18.75 L257.84 18.77 L258.31 18.80 L258.77 18.82 L259.24 18.84 L259.70 18.86 L260.17 18.88 L260.64 18.89 L261.10 18.91 L261.57 18.93 L262.03 18.95 L262.50 18.97 L262.97 18.99 L263.43 19.01 L263.90 19.02 L264.36 19.04 L264.83 19.06 L265.30 19.08 L265.76 19.09 L266.23 19.11 L266.69 19.13 L267.16 19.14 L267.63 19.16 L268.09 19.18 L268.56 19.19 L269.02 19.21 L269.49 19.22 L269.96 19.24 L270.42 19.26 L270.89 19.27 L271.35 19.29 L271.82 19.30 L272.29 19.32 L272.75 19.33 L273.22 19.35 L273.68 19.36 L274.15 19.37 L274.62 19.39 L275.08 19.40 L275.55 19.42 L276.02 19.43 L276.48 19.44 L276.95 19.46 L277.41 19.47 L277.88 19.49 L278.35 19.50 L278.81 19.51 L279.28 19.53 L279.74 19.54 L280.21 19.55 L280.68 19.56 L281.14 19.58 L281.61 19.59 L282.07 19.60 L282.54 19.61 L283.01 19.63 L283.47 19.64 L283.94 19.65 L284.41 19.66 L284.87 19.68 L285.34 19.69 L285.80 19.70 L286.27 19.71 L286.74 19.72 L287.20 19.73 L287.67 19.74 L288.13 19.76 L288.60 19.77 L289.07 19.78 L289.53 19.79 L290.00 19.80 L290.47 19.81 L290.93 19.82 L291.40 19.83 L291.86 19.84 L292.33 19.85 L292.80 19.86 L293.26 19.87 L293.73 19.88 L294.20 19.89 L294.66 19.90 L295.13 19.91 L295.59 19.92 L296.06 19.93 L296.53 19.94 L296.99 19.95 L297.46 19.96 L297.92 19.97 L298.39 19.98 L298.86 19.99 L299.32 20.00 L299.79 20.01 L300.26 20.02 L300.72 20.03 L301.19 20.04 L301.65 20.05 L302.12 20.06 L302.59 20.07 L303.05 20.08 L303.52 20.09 L303.99 20.09 L304.45 20.10 L304.92 20.11 L305.38 20.12 L305.85 20.13 L306.32 20.14 L306.78 20.15 L307.25 20.15 L307.72 20.16 L308.18 20.17 L308.65 20.18 L309.11 20.19 L309.58 20.19 L310.05 20.20 L310.51 20.21 L310.98 20.22 L311.45 20.22 L311.91 20.23 L312.38 20.24 L312.84 20.25 L313.31 20.25 L313.78 20.26 L314.24 20.27 L314.71 20.27 L315.18 20.28 L315.64 20.29 L316.11 20.30 L316.57 20.30 L317.04 20.31 L317.51 20.32 L317.97 20.32 L318.44 20.33 L318.91 20.34 L319.37 20.34 L319.84 20.35 L320.30 20.36 L320.77 20.36 L321.24 20.37 L321.70 20.38 L322.17 20.38 L322.64 20.39 L323.10 20.40 L323.57 20.40 L324.03 20.41 L324.50 20.42 L324.97 20.42 L325.43 20.43 L325.90 20.43 L326.37 20.44 L326.83 20.45 L327.30 20.45 L327.76 20.46 L328.23 20.46 L328.70 20.47 L329.16 20.48 L329.63 20.48 L330.10 20.49 L330.56 20.49 L331.03 20.50 L331.49 20.51 L331.96 20.51 L332.43 20.52 L332.89 20.52 L333.36 20.53 L333.83 20.53 L334.29 20.54 L334.76 20.54 L335.22 20.55 L335.69 20.55 L336.16 20.56 L336.62 20.56 L337.09 20.57 L337.56 20.57 L338.02 20.58 L338.49 20.58 L338.95 20.59 L339.42 20.59 L339.89 20.60 L340.35 20.60 L340.82 20.61 L341.29 20.61 L341.75 20.62 L342.22 20.62 L342.69 20.63 L343.15 20.63 L343.62 20.64 L344.08 20.64 L344.55 20.65 L345.02 20.65 L345.48 20.65 L345.95 20.66 L346.42 20.66 L346.88 20.67 L347.35 20.67 L347.81 20.68 L348.28 20.68 L348.75 20.68 L349.21 20.69 L349.68 20.69 L350.15 20.70 L350.61 20.70 L351.08 20.71 L351.54 20.71 L352.01 20.71 L352.48 20.72 L352.94 20.72 L353.41 20.73 L353.88 20.73 L354.34 20.73 L354.81 20.74 L355.27 20.74 L355.74 20.74 L356.21 20.75 L356.67 20.75 L357.14 20.76 L357.61 20.76 L358.07 20.76 L358.54 20.77 L359.01 20.77 L359.47 20.77 L359.94 20.78 L360.40 20.78 L360.87 20.79 L361.34 20.79 L361.80 20.79 L362.27 20.80 L362.74 20.80 L363.20 20.80 L363.67 20.81 L364.13 20.81 L364.60 20.81 L365.07 20.82 L365.53 20.82 L366.00 20.82 L366.47 20.83 L366.93 20.83 L367.40 20.83 L367.86 20.84 L368.33 20.84 L368.80 20.84 L369.26 20.85 L369.73 20.85 L370.20 20.85 L370.66 20.85 L371.13 20.86 L371.60 20.86 L372.06 20.86 L372.53 20.87 L372.99 20.87 L373.46 20.87 L373.93 20.88 L374.39 20.88 L374.86 20.88 L375.33 20.88 L375.79 20.89 L376.26 20.89 L376.72 20.89 L377.19 20.90 L377.66 20.90 L378.12 20.90 L378.59 20.90 L379.06 20.91 L379.52 20.91 L379.99 20.91 L380.45 20.92 L380.92 20.92 L381.39 20.92 L381.85 20.92 L382.32 20.93 L382.79 20.93 L383.25 20.93 L383.72 20.94 L384.19 20.94 L384.65 20.94 L385.12 20.94 L385.58 20.95 L386.05 20.95 L386.52 20.95 L386.98 20.95 L387.45 20.96 L387.92 20.96 L388.38 20.96 L388.85 20.96 L389.31 20.97 L389.78 20.97 L390.25 20.97 L390.71 20.97 L391.18 20.98 L391.65 20.98 L392.11 20.98 L392.58 20.98 L393.04 20.99 L393.51 20.99 L393.98 20.99 L394.44 20.99 L394.91 21.00 L395.38 21.00 L395.84 21.00 L396.31 21.00 L396.78 21.00 L397.24 21.01 L397.71 21.01 L398.17 21.01 L398.64 21.01 L399.11 21.02 L399.57 21.02 L400.04 21.02 L400.51 21.02 L400.97 21.02 L401.44 21.03 L401.90 21.03 L402.37 21.03 L402.84 21.03 L403.30 21.03 L403.77 21.04 L404.24 21.04 L404.70 21.04 L405.17 21.04 L405.63 21.04 L406.10 21.04 L406.57 21.05 L407.03 21.05 L407.50 21.05" stroke="#0000ff" stroke-width="1.5"/>
</g>
<g fill="none">
<path d="M247.9 152.45 H275.9" stroke="#ff0000" stroke-width="1.45"/>
<path d="M247.9 174.55 H274.2" stroke="#626262" stroke-width="1.15" stroke-dasharray="1.8 1.65"/>
<path d="M247.9 201.4 H274.2" stroke="#626262" stroke-width="1.15" stroke-dasharray="1.8 1.3 4.7 1.3"/>
<path d="M330.3 177.0 H357.3" stroke="#6a6a6a" stroke-width="1.5" stroke-dasharray="4.3 1.25"/>
<path d="M330.5 201.45 H358.4" stroke="#0000ff" stroke-width="1.5"/>
</g>
<text x="10.8" y="13.8" font-size="13" text-anchor="start" style="font-family:'Liberation Serif',serif;fill:#2e2e2e;" >d)</text>
<text x="40.60" y="12.10" font-size="13.7" textLength="16.40" lengthAdjust="spacingAndGlyphs" style="font-family:'Liberation Serif',serif;fill:#2e2e2e;">0.0</text>
<text x="32.20" y="47.93" font-size="13.7" textLength="24.80" lengthAdjust="spacingAndGlyphs" style="font-family:'Liberation Serif',serif;fill:#2e2e2e;">−0.1</text>
<text x="32.20" y="83.77" font-size="13.7" textLength="24.80" lengthAdjust="spacingAndGlyphs" style="font-family:'Liberation Serif',serif;fill:#2e2e2e;">−0.2</text>
<text x="32.20" y="119.60" font-size="13.7" textLength="24.80" lengthAdjust="spacingAndGlyphs" style="font-family:'Liberation Serif',serif;fill:#2e2e2e;">−0.3</text>
<text x="32.20" y="155.43" font-size="13.7" textLength="24.80" lengthAdjust="spacingAndGlyphs" style="font-family:'Liberation Serif',serif;fill:#2e2e2e;">−0.4</text>
<text x="32.20" y="191.27" font-size="13.7" textLength="24.80" lengthAdjust="spacingAndGlyphs" style="font-family:'Liberation Serif',serif;fill:#2e2e2e;">−0.5</text>
<text x="32.20" y="227.10" font-size="13.7" textLength="24.80" lengthAdjust="spacingAndGlyphs" style="font-family:'Liberation Serif',serif;fill:#2e2e2e;">−0.6</text>
<text x="55.30" y="238.50" font-size="13.7" textLength="6.40" lengthAdjust="spacingAndGlyphs" style="font-family:'Liberation Serif',serif;fill:#2e2e2e;">0</text>
<text x="140.30" y="238.50" font-size="13.7" textLength="6.40" lengthAdjust="spacingAndGlyphs" style="font-family:'Liberation Serif',serif;fill:#2e2e2e;">5</text>
<text x="222.10" y="238.50" font-size="13.7" textLength="12.80" lengthAdjust="spacingAndGlyphs" style="font-family:'Liberation Serif',serif;fill:#2e2e2e;">10</text>
<text x="307.10" y="238.50" font-size="13.7" textLength="12.80" lengthAdjust="spacingAndGlyphs" style="font-family:'Liberation Serif',serif;fill:#2e2e2e;">15</text>
<text x="392.10" y="238.50" font-size="13.7" textLength="12.80" lengthAdjust="spacingAndGlyphs" style="font-family:'Liberation Serif',serif;fill:#2e2e2e;">20</text>
<text x="220.20" y="260.70" font-size="13" textLength="24.70" lengthAdjust="spacingAndGlyphs" style="font-family:'Liberation Serif',serif;fill:#2e2e2e;">L/<tspan font-style="italic">R</tspan><tspan dy="-2.6" font-size="7.5">*</tspan></text>
<text x="153.90" y="207.00" font-size="13" textLength="23.30" lengthAdjust="spacingAndGlyphs" style="font-family:'Liberation Serif',serif;fill:#2e2e2e;">a/<tspan font-style="italic">R</tspan><tspan dy="-2.6" font-size="7.5">*</tspan></text>
<text x="177.5" y="208.9" font-size="13" style="font-family:'Liberation Serif',serif;fill:#2e2e2e">=</text>
<text x="185.2" y="207.0" font-size="13" style="font-family:'Liberation Serif',serif;fill:#2e2e2e">5</text>
<text transform="translate(21.9,133.6) rotate(-90)" font-size="13.2" textLength="24.9" lengthAdjust="spacingAndGlyphs" style="font-family:'Liberation Serif',serif;fill:#2e2e2e">E/E<tspan dy="-2.6" font-size="7.5">*</tspan></text>
<text x="281.60" y="155.60" font-size="11.6" style="font-family:'Liberation Serif',serif;fill:#2e2e2e;">q</text>
<text x="288.10" y="157.90" font-size="13" style="font-family:'Liberation Serif',serif;fill:#2e2e2e;">=</text>
<text x="295.60" y="155.30" font-size="13" style="font-family:'Liberation Serif',serif;fill:#2e2e2e;">0</text>
<text x="281.60" y="177.30" font-size="11.6" style="font-family:'Liberation Serif',serif;fill:#2e2e2e;">q</text>
<text x="288.10" y="179.60" font-size="13" style="font-family:'Liberation Serif',serif;fill:#2e2e2e;">=</text>
<path d="M296.9 172.9 h6.2" stroke="#2e2e2e" stroke-width="0.7"/>
<text x="299.1" y="172.3" font-size="8.0" text-anchor="middle" style="font-family:'Liberation Serif',serif;fill:#2e2e2e;" >1</text>
<text x="299.1" y="182.70000000000002" font-size="7.7" text-anchor="middle" style="font-family:'Liberation Serif',serif;fill:#2e2e2e;" >4</text>
<path d="M304.8 172.9 h6.9" stroke="#2e2e2e" stroke-width="0.7"/>
<text x="308.25" y="172.3" font-size="8.0" text-anchor="middle" style="font-family:'Liberation Serif',serif;fill:#2e2e2e;font-style:italic" >π</text>
<text x="308.25" y="182.70000000000002" font-size="7.7" text-anchor="middle" style="font-family:'Liberation Serif',serif;fill:#2e2e2e;font-style:italic" >L</text>
<text x="281.60" y="203.50" font-size="11.6" style="font-family:'Liberation Serif',serif;fill:#2e2e2e;">q</text>
<text x="288.10" y="205.80" font-size="13" style="font-family:'Liberation Serif',serif;fill:#2e2e2e;">=</text>
<path d="M296.9 199.6 h6.2" stroke="#2e2e2e" stroke-width="0.7"/>
<text x="299.1" y="199.0" font-size="8.0" text-anchor="middle" style="font-family:'Liberation Serif',serif;fill:#2e2e2e;" >1</text>
<text x="299.1" y="209.4" font-size="7.7" text-anchor="middle" style="font-family:'Liberation Serif',serif;fill:#2e2e2e;" >2</text>
<path d="M304.8 199.6 h6.9" stroke="#2e2e2e" stroke-width="0.7"/>
<text x="308.25" y="199.0" font-size="8.0" text-anchor="middle" style="font-family:'Liberation Serif',serif;fill:#2e2e2e;font-style:italic" >π</text>
<text x="308.25" y="209.4" font-size="7.7" text-anchor="middle" style="font-family:'Liberation Serif',serif;fill:#2e2e2e;font-style:italic" >L</text>
<text x="364.60" y="179.70" font-size="11.6" style="font-family:'Liberation Serif',serif;fill:#2e2e2e;">q</text>
<text x="371.10" y="182.00" font-size="13" style="font-family:'Liberation Serif',serif;fill:#2e2e2e;">=</text>
<path d="M379.3 175.1 h5.8" stroke="#2e2e2e" stroke-width="0.7"/>
<text x="381.9" y="174.5" font-size="8.0" text-anchor="middle" style="font-family:'Liberation Serif',serif;fill:#2e2e2e;" >3</text>
<text x="381.9" y="184.7" font-size="7.7" text-anchor="middle" style="font-family:'Liberation Serif',serif;fill:#2e2e2e;" >4</text>
<path d="M387.3 175.1 h7.5" stroke="#2e2e2e" stroke-width="0.7"/>
<text x="391.05" y="174.5" font-size="8.0" text-anchor="middle" style="font-family:'Liberation Serif',serif;fill:#2e2e2e;font-style:italic" >π</text>
<text x="391.05" y="184.7" font-size="7.7" text-anchor="middle" style="font-family:'Liberation Serif',serif;fill:#2e2e2e;font-style:italic" >L</text>
<text x="364.60" y="203.80" font-size="11.6" style="font-family:'Liberation Serif',serif;fill:#2e2e2e;">q</text>
<text x="371.10" y="206.10" font-size="13" style="font-family:'Liberation Serif',serif;fill:#2e2e2e;">=</text>
<path d="M379.3 199.6 h7.6" stroke="#2e2e2e" stroke-width="0.7"/>
<text x="383.1" y="199.0" font-size="8.0" text-anchor="middle" style="font-family:'Liberation Serif',serif;fill:#2e2e2e;font-style:italic" >π</text>
<text x="383.1" y="209.7" font-size="7.7" text-anchor="middle" style="font-family:'Liberation Serif',serif;fill:#2e2e2e;font-style:italic" >L</text>
</svg>
</body></html>
